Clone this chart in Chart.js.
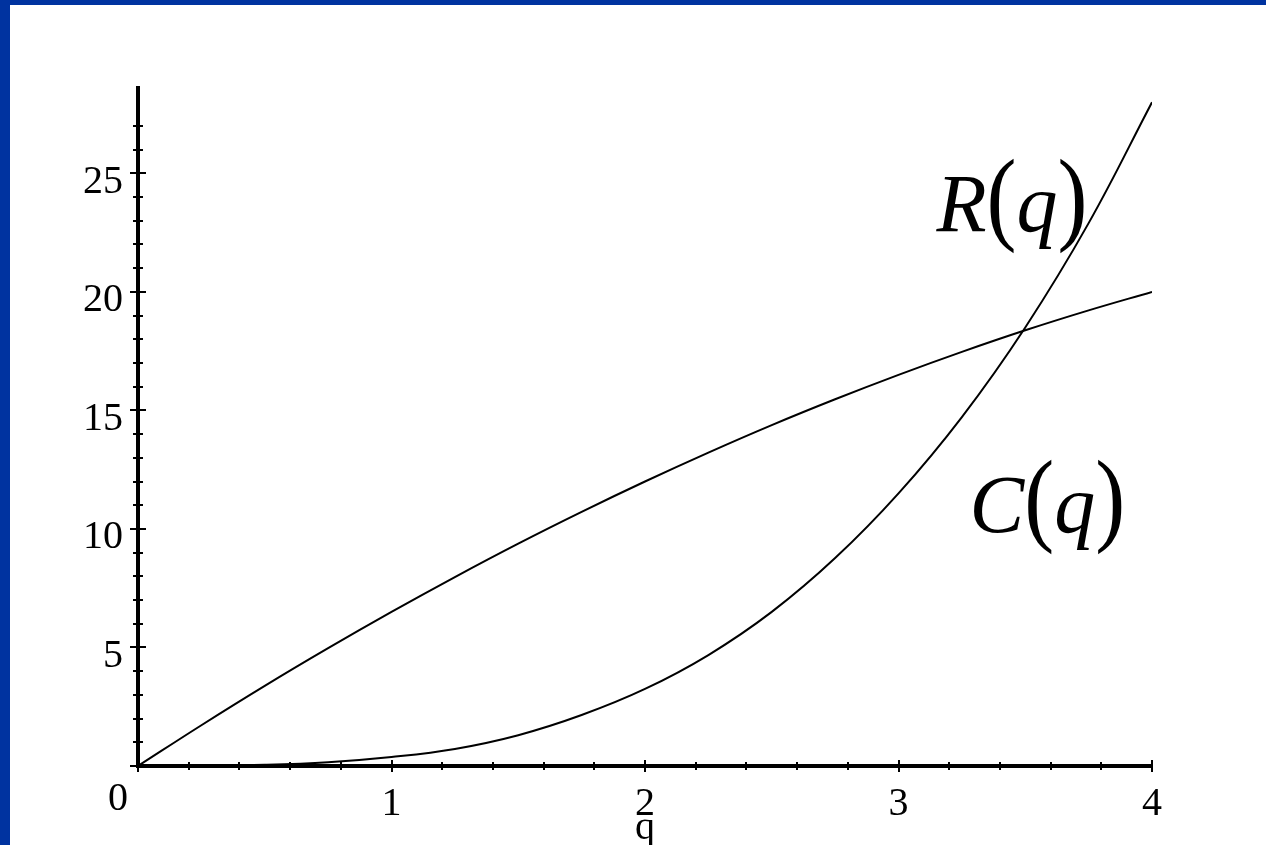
<!DOCTYPE html>
<html>
<head>
<meta charset="utf-8">
<title>R(q) and C(q)</title>
<script src="https://cdn.jsdelivr.net/npm/chart.js@4.4.1/dist/chart.umd.min.js"></script>
<style>
  html, body { margin: 0; padding: 0; background: #0033a0; }
  #frame {
    position: absolute; left: 10px; top: 5px;
    width: 1256px; height: 840px; background: #fff;
  }
</style>
</head>
<body>
<div id="frame"><canvas id="plot"></canvas></div>
<script>
// sample points along q, read at steps of 0.25
var qValues = [0, 0.25, 0.5, 0.75, 1, 1.25, 1.5, 1.75, 2, 2.25, 2.5, 2.75, 3, 3.25, 3.5, 3.75, 4];
// convex curve (label R(q))
var rValues = [0, 0.01, 0.05, 0.16, 0.38, 0.72, 1.3, 2.15, 3.25, 4.68, 6.5, 8.77, 11.5, 14.72, 18.5, 22.9, 28];
// concave curve (label C(q))
var cValues = [0, 1.72, 3.38, 4.97, 6.5, 7.97, 9.38, 10.72, 12, 13.22, 14.38, 15.47, 16.5, 17.47, 18.38, 19.22, 20];

var xMax = 4;
var yMax = 28.6;

var serif = '"Liberation Serif", "Times New Roman", serif';

function points(ys) {
    return qValues.map(function(q, i) { return { x: q, y: ys[i] }; });
}

function isWhole(v) {
    return Math.abs(v - Math.round(v)) < 1e-6;
}

// tick marks that cross the axes, long at labelled values
var tickMarks = {
    id: 'tickMarks',
    afterDraw: function(chart) {
        var ctx = chart.ctx, x = chart.scales.x, y = chart.scales.y, area = chart.chartArea;
        ctx.save();
        ctx.strokeStyle = '#000';
        ctx.lineWidth = 2;
        ctx.beginPath();
        y.ticks.forEach(function(t) {
            var py = Math.round(y.getPixelForValue(t.value));
            var a = (Math.round(t.value) % 5 === 0) ? 8 : 5;
            ctx.moveTo(area.left - a, py);
            ctx.lineTo(area.left + a, py);
        });
        x.ticks.forEach(function(t) {
            var px = Math.round(x.getPixelForValue(t.value));
            var a = isWhole(t.value) ? 6 : 4;
            ctx.moveTo(px, area.bottom - a);
            ctx.lineTo(px, area.bottom + a);
        });
        ctx.stroke();
        ctx.restore();
    }
};

// origin label and the curve names
var curveLabels = {
    id: 'curveLabels',
    afterDraw: function(chart) {
        var ctx = chart.ctx, x = chart.scales.x, y = chart.scales.y;
        ctx.save();
        ctx.fillStyle = '#000';
        ctx.textBaseline = 'alphabetic';

        ctx.font = '40px ' + serif;
        ctx.textAlign = 'center';
        ctx.fillText('0', x.getPixelForValue(0) - 20, y.getPixelForValue(0) + 44);

        ctx.textAlign = 'left';
        var italic = 'italic 82px ' + serif, paren = '90px ' + serif;
        // tall, thin brackets: stretch the glyph vertically
        function bracket(ch, px, py) {
            ctx.save();
            ctx.font = paren;
            ctx.translate(px, py);
            ctx.scale(1, 1.16);
            ctx.fillText(ch, 0, 0);
            var w = ctx.measureText(ch).width;
            ctx.restore();
            return w;
        }
        function fnLabel(letter, q, v) {
            var px = x.getPixelForValue(q), py = y.getPixelForValue(v);
            ctx.font = italic; ctx.fillText(letter, px, py); px += ctx.measureText(letter).width;
            px += bracket('(', px, py);
            ctx.font = italic; ctx.fillText('q', px, py); px += ctx.measureText('q').width;
            bracket(')', px, py);
        }
        fnLabel('R', 3.15, 22.55);
        fnLabel('C', 3.28, 9.87);
        ctx.restore();
    }
};

new Chart(document.getElementById('plot'), {
    type: 'line',
    data: {
        datasets: [
            { label: 'R(q)', data: points(rValues) },
            { label: 'C(q)', data: points(cValues) }
        ]
    },
    options: {
        responsive: true,
        maintainAspectRatio: false,
        animation: false,
        layout: { padding: { left: 0, top: 83, right: 114, bottom: 0 } },
        elements: {
            line: { borderColor: '#000', borderWidth: 2, tension: 0.4, fill: false },
            point: { radius: 0, hoverRadius: 0 }
        },
        plugins: { legend: { display: false }, tooltip: { enabled: false } },
        scales: {
            x: {
                type: 'linear',
                min: 0, max: xMax,
                grid: { display: false, drawTicks: false },
                border: { display: true, color: '#000', width: 4 },
                ticks: {
                    stepSize: 0.2, autoSkip: false, maxRotation: 0, padding: 14,
                    color: '#000', font: { family: serif, size: 40 },
                    callback: function(v) { return (isWhole(v) && v > 0) ? String(Math.round(v)) : ''; }
                },
                title: {
                    display: true, text: 'q', color: '#000',
                    font: { family: serif, size: 40 }, padding: { top: 0, bottom: -7 }
                },
                afterFit: function(s) { s.height = 79; }
            },
            y: {
                type: 'linear',
                min: 0, max: yMax,
                grid: { display: false, drawTicks: false },
                border: { display: true, color: '#000', width: 4 },
                afterBuildTicks: function(s) { s.ticks = s.ticks.filter(function(t) { return isWhole(t.value); }); },
                ticks: {
                    stepSize: 1, autoSkip: false, padding: 15, labelOffset: 9,
                    color: '#000', font: { family: serif, size: 40 },
                    callback: function(v) { return (v > 0 && Math.round(v) % 5 === 0) ? String(Math.round(v)) : ''; }
                },
                afterFit: function(s) { s.width = 128; }
            }
        }
    },
    plugins: [tickMarks, curveLabels]
});
</script>
</body>
</html>
